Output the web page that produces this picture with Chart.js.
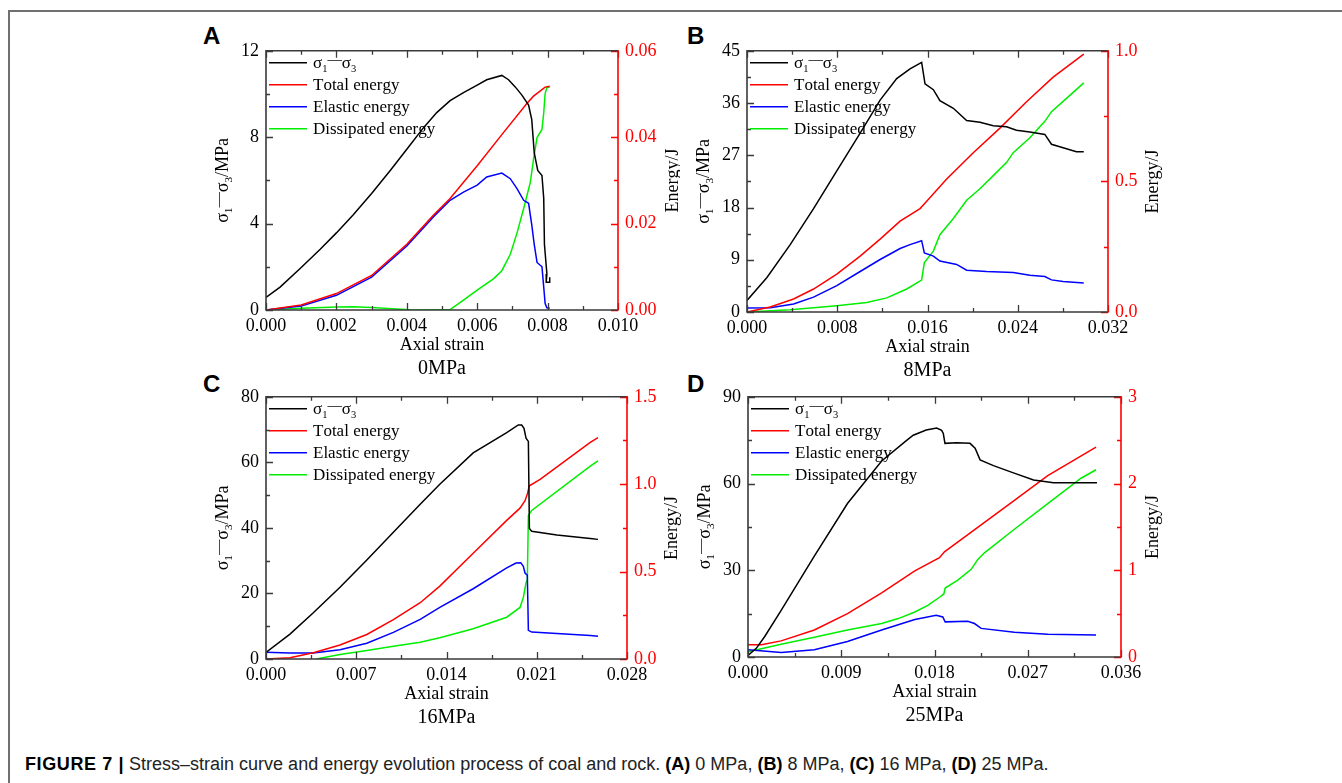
<!DOCTYPE html>
<html>
<head>
<meta charset="utf-8">
<script src="https://cdn.jsdelivr.net/npm/chart.js@4"></script>
<style>
  body { margin: 0; background: #fff; width: 1342px; height: 783px; overflow: hidden; position: relative; }
  .frame { position: absolute; left: 8px; top: 10px; width: 1400px; height: 800px;
           border-top: 2px solid #707070; border-left: 2px solid #707070; }
  canvas { position: absolute; }
  .letter { position: absolute; font: bold 24px "Liberation Sans", Arial, sans-serif; line-height: 24px; color: #000; }
  .caption { position: absolute; left: 25px; top: 754px; font: 18px "Liberation Sans", Arial, sans-serif;
             line-height: 20px; color: #222; white-space: nowrap; }
  .caption b { color: #000; }
</style>
</head>
<body>
<div class="frame"></div>
<div class="letter" style="left:203px;top:24px">A</div>
<div class="letter" style="left:687px;top:24px">B</div>
<div class="letter" style="left:203px;top:372px">C</div>
<div class="letter" style="left:687px;top:372px">D</div>
<canvas id="panelA"></canvas>
<canvas id="panelB"></canvas>
<canvas id="panelC"></canvas>
<canvas id="panelD"></canvas>
<div class="caption"><b style="letter-spacing:0.6px">FIGURE 7 |</b> Stress–strain curve and energy evolution process of coal and rock. <b>(A)</b> 0 MPa, <b>(B)</b> 8 MPa, <b>(C)</b> 16 MPa, <b>(D)</b> 25 MPa.</div>
<script>
const seriesLabels = ['σ1—σ3', 'Total energy', 'Elastic energy', 'Dissipated energy'];
const confining = ['0MPa', '8MPa', '16MPa', '25MPa'];

// (A) 0 MPa
const aStrainTicks = [0, 0.002, 0.004, 0.006, 0.008, 0.010];
const aStressTicks = [0, 4, 8, 12];
const aEnergyTicks = [0, 0.02, 0.04, 0.06];
const aStressX = [0, 0.0004, 0.001, 0.00154, 0.002, 0.00248, 0.003, 0.00353, 0.004, 0.00447, 0.00485, 0.00523, 0.00561, 0.006, 0.00627, 0.0067, 0.00689, 0.00708, 0.00727, 0.00746, 0.00755, 0.00762, 0.00772, 0.00784, 0.00789, 0.00791, 0.00798, 0.00796, 0.00806, 0.00806];
const aStress = [0.58, 1.06, 1.97, 2.81, 3.57, 4.41, 5.39, 6.46, 7.44, 8.43, 9.14, 9.69, 10.06, 10.41, 10.66, 10.86, 10.66, 10.33, 9.95, 9.49, 8.81, 7.29, 6.46, 6.23, 5.16, 3.04, 1.67, 1.29, 1.29, 1.52];
const aTotalX = [0, 0.001, 0.002, 0.003, 0.004, 0.00476, 0.00523, 0.006, 0.0067, 0.00741, 0.0076, 0.00793, 0.00806];
const aTotal = [0, 0.00114, 0.0038, 0.008, 0.0152, 0.022, 0.0258, 0.0334, 0.0406, 0.0478, 0.0495, 0.0516, 0.0518];
const aElasticX = [0, 0.001, 0.002, 0.003, 0.004, 0.00476, 0.00523, 0.00561, 0.006, 0.00627, 0.0067, 0.00694, 0.00713, 0.00732, 0.00746, 0.00755, 0.00762, 0.0077, 0.00784, 0.00789, 0.00793, 0.00798, 0.00806];
const aElastic = [0, 0.0009, 0.0034, 0.0076, 0.0148, 0.0216, 0.0254, 0.0273, 0.0289, 0.0308, 0.0317, 0.0304, 0.0281, 0.0254, 0.0247, 0.0197, 0.0152, 0.011, 0.01, 0.0053, 0.0015, 0.0005, 0.0004];
const aDissX = [0, 0.001, 0.002, 0.00248, 0.003, 0.0042, 0.00523, 0.00561, 0.006, 0.00646, 0.0067, 0.00694, 0.00713, 0.00732, 0.00751, 0.0076, 0.0077, 0.00784, 0.00789, 0.00793, 0.00798, 0.00806];
const aDiss = [0, 0.0004, 0.0007, 0.00076, 0.0006, 0, 0.0001, 0.0023, 0.0046, 0.0072, 0.0091, 0.0129, 0.0178, 0.0235, 0.0296, 0.0349, 0.0399, 0.0418, 0.0456, 0.0501, 0.0515, 0.0516];

// (B) 8 MPa
const bStrainTicks = [0, 0.008, 0.016, 0.024, 0.032];
const bStressTicks = [0, 9, 18, 27, 36, 45];
const bEnergyTicks = [0, 0.5, 1.0];
const bStressX = [0, 0.00177, 0.00383, 0.0059, 0.00796, 0.01003, 0.0118, 0.01327, 0.01445, 0.01548, 0.01578, 0.01652, 0.0171, 0.01829, 0.01947, 0.02065, 0.02183, 0.023, 0.02389, 0.02507, 0.0264, 0.02699, 0.02802, 0.0292, 0.02985];
const bStress = [1.98, 5.94, 11.6, 17.8, 24.3, 30.8, 36.5, 40.2, 41.9, 43.0, 39.3, 38.3, 36.4, 35.1, 33.0, 32.7, 32.1, 31.9, 31.3, 31.0, 30.6, 28.9, 28.3, 27.6, 27.6];
const bTotalX = [0, 0.00206, 0.00413, 0.0059, 0.00796, 0.01003, 0.0118, 0.01357, 0.01534, 0.01593, 0.0177, 0.02006, 0.02242, 0.02478, 0.02714, 0.02985];
const bTotal = [0, 0.019, 0.05, 0.088, 0.145, 0.214, 0.279, 0.348, 0.396, 0.424, 0.509, 0.61, 0.704, 0.805, 0.899, 0.987];
const bElasticX = [0, 0.00206, 0.00413, 0.0059, 0.00796, 0.01003, 0.0118, 0.01357, 0.01445, 0.01548, 0.01572, 0.01652, 0.0171, 0.01858, 0.01947, 0.02124, 0.0236, 0.02507, 0.0264, 0.02699, 0.02802, 0.02985];
const bElastic = [0.015, 0.016, 0.031, 0.057, 0.101, 0.155, 0.201, 0.243, 0.258, 0.273, 0.226, 0.214, 0.195, 0.182, 0.16, 0.155, 0.151, 0.141, 0.136, 0.123, 0.117, 0.111];
const bDissX = [0, 0.00383, 0.00796, 0.01062, 0.01239, 0.01416, 0.01548, 0.01572, 0.01652, 0.0171, 0.01829, 0.01947, 0.02065, 0.02183, 0.023, 0.0236, 0.02507, 0.0264, 0.02699, 0.02832, 0.02985];
const bDiss = [0, 0.009, 0.024, 0.036, 0.054, 0.088, 0.122, 0.189, 0.233, 0.296, 0.358, 0.428, 0.472, 0.522, 0.572, 0.61, 0.667, 0.73, 0.767, 0.818, 0.877];

// (C) 16 MPa
const cStrainTicks = [0, 0.007, 0.014, 0.021, 0.028];
const cStressTicks = [0, 20, 40, 60, 80];
const cEnergyTicks = [0, 0.5, 1.0, 1.5];
const cStressX = [0, 0.00186, 0.00367, 0.00574, 0.00782, 0.00988, 0.01196, 0.01348, 0.01607, 0.01867, 0.01957, 0.01983, 0.02001, 0.02017, 0.02035, 0.02043, 0.02061, 0.02256, 0.02515, 0.02575];
const cStress = [2.0, 7.6, 14.1, 21.9, 30.2, 38.7, 47.2, 53.3, 62.9, 69.1, 71.4, 71.4, 70.4, 67.4, 66.4, 39.8, 39.0, 37.8, 36.8, 36.5];
const cTotalX = [0, 0.00186, 0.00367, 0.00574, 0.00782, 0.00988, 0.01196, 0.01348, 0.01607, 0.01867, 0.0197, 0.02009, 0.02027, 0.02043, 0.02126, 0.02515, 0.02575];
const cTotal = [0, 0.0075, 0.036, 0.08, 0.14, 0.225, 0.322, 0.417, 0.605, 0.793, 0.863, 0.906, 0.944, 0.991, 1.028, 1.239, 1.267];
const cElasticX = [0, 0.00186, 0.00367, 0.00574, 0.00782, 0.00988, 0.01196, 0.01348, 0.01607, 0.01867, 0.01939, 0.01976, 0.01996, 0.02009, 0.02027, 0.02035, 0.02061, 0.02515, 0.02575];
const cElastic = [0.039, 0.034, 0.034, 0.053, 0.09, 0.152, 0.227, 0.295, 0.402, 0.521, 0.549, 0.551, 0.53, 0.492, 0.479, 0.164, 0.154, 0.135, 0.13];
const cDissX = [0.0039, 0.00574, 0.00782, 0.00988, 0.01196, 0.01348, 0.01607, 0.01867, 0.0197, 0.01996, 0.02017, 0.02027, 0.02035, 0.02061, 0.02515, 0.02575];
const cDiss = [0, 0.026, 0.049, 0.073, 0.096, 0.122, 0.173, 0.239, 0.295, 0.352, 0.436, 0.455, 0.821, 0.85, 1.103, 1.133];

// (D) 25 MPa
const dStrainTicks = [0, 0.009, 0.018, 0.027, 0.036];
const dStressTicks = [0, 30, 60, 90];
const dEnergyTicks = [0, 1, 2, 3];
const dStressX = [0, 0.0008, 0.0016, 0.0032, 0.0064, 0.0096, 0.0129, 0.0154, 0.01595, 0.0172, 0.01821, 0.01869, 0.01885, 0.01901, 0.02014, 0.02143, 0.02192, 0.0224, 0.02369, 0.02562, 0.02756, 0.02949, 0.03368];
const dStress = [0.5, 3.0, 7.0, 16.1, 34.9, 53.1, 67.8, 75.2, 76.7, 78.5, 79.2, 78.4, 77.3, 73.9, 74.1, 73.9, 72.2, 68.2, 66.2, 63.7, 61.2, 60.3, 60.3];
const dTotalX = [0, 0.0013, 0.0032, 0.0064, 0.0096, 0.0129, 0.0161, 0.01848, 0.01896, 0.0225, 0.02571, 0.02893, 0.03359];
const dTotal = [0.14, 0.142, 0.186, 0.311, 0.5, 0.739, 0.992, 1.144, 1.212, 1.523, 1.807, 2.091, 2.42];
const dElasticX = [0, 0.0032, 0.0064, 0.0096, 0.0129, 0.0161, 0.01816, 0.0188, 0.01903, 0.02121, 0.02186, 0.0225, 0.02571, 0.02893, 0.03359];
const dElastic = [0.083, 0.053, 0.083, 0.178, 0.311, 0.432, 0.481, 0.462, 0.405, 0.413, 0.386, 0.33, 0.284, 0.261, 0.254];
const dDissX = [0, 0.0032, 0.0064, 0.0096, 0.0129, 0.0145, 0.0161, 0.01736, 0.01848, 0.0189, 0.01903, 0.02025, 0.02154, 0.02218, 0.02282, 0.02571, 0.02893, 0.03214, 0.03359];
const dDiss = [0.06, 0.148, 0.227, 0.311, 0.386, 0.443, 0.519, 0.595, 0.689, 0.727, 0.795, 0.886, 1.011, 1.125, 1.201, 1.473, 1.769, 2.061, 2.159];

const SERIF = '"Liberation Serif", "Times New Roman", serif';
const colors = ['#000000', '#ff0000', '#0000ff', '#00ee00'];
const AXIS = '#3a3a3a';
const RED = '#ff0000';
// room around the plot box inside each canvas
const PAD = { left: 62, right: 62, top: 14, bottom: 74 };

const panels = [
  { id: 'A', area: [266, 47, 618, 310], rightTitle: 55, cond: confining[0],
    xTicks: aStrainTicks, yTicks: aStressTicks, eTicks: aEnergyTicks, eDigits: 2,
    series: [[aStressX, aStress], [aTotalX, aTotal], [aElasticX, aElastic], [aDissX, aDiss]] },
  { id: 'B', area: [747, 47, 1108, 312], rightTitle: 45, cond: confining[1],
    xTicks: bStrainTicks, yTicks: bStressTicks, eTicks: bEnergyTicks, eDigits: 1,
    series: [[bStressX, bStress], [bTotalX, bTotal], [bElasticX, bElastic], [bDissX, bDiss]] },
  { id: 'C', area: [266, 393, 627, 659], rightTitle: 45, cond: confining[2],
    xTicks: cStrainTicks, yTicks: cStressTicks, eTicks: cEnergyTicks, eDigits: 1,
    series: [[cStressX, cStress], [cTotalX, cTotal], [cElasticX, cElastic], [cDissX, cDiss]] },
  { id: 'D', area: [748, 393, 1121, 657], rightTitle: 32, cond: confining[3],
    xTicks: dStrainTicks, yTicks: dStressTicks, eTicks: dEnergyTicks, eDigits: 0,
    series: [[dStressX, dStress], [dTotalX, dTotal], [dElasticX, dElastic], [dDissX, dDiss]] },
];

// σ followed by a digit gets a subscript, the long dash sits a bit higher
function sigmaParts(text, size) {
  const parts = [];
  for (let i = 0; i < text.length; i++) {
    const ch = text[i];
    if (/\d/.test(ch) && text[i - 1] === 'σ') parts.push({ t: ch, size: size * 0.62, dy: size * 0.32 });
    else if (ch === '—') parts.push({ t: ch, size: size * 0.85, dy: -size * 0.2 });
    else parts.push({ t: ch, size: size, dy: 0 });
  }
  return parts;
}

function drawRich(ctx, text, x, y, size, align) {
  const parts = sigmaParts(text, size);
  let w = 0;
  parts.forEach(p => { ctx.font = p.size + 'px ' + SERIF; p.w = ctx.measureText(p.t).width; w += p.w; });
  let cx = align === 'center' ? x - w / 2 : x;
  ctx.textAlign = 'left';
  ctx.textBaseline = 'middle';
  parts.forEach(p => {
    ctx.font = p.size + 'px ' + SERIF;
    ctx.fillText(p.t, cx, y + p.dy);
    cx += p.w;
  });
}

function minorOf(ticks) {
  const out = [];
  for (let i = 1; i < ticks.length; i++) out.push((ticks[i - 1] + ticks[i]) / 2);
  return out;
}

const figureAxes = {
  id: 'figureAxes',
  afterDatasetsDraw(chart, args, p) {
    const { ctx, chartArea: a, scales } = chart;
    ctx.save();
    ctx.lineCap = 'butt';

    // inward tick marks
    ctx.lineWidth = 1.3;
    ctx.strokeStyle = AXIS;
    ctx.beginPath();
    [[p.xTicks, 7], [minorOf(p.xTicks), 4]].forEach(([vals, len]) => vals.forEach(v => {
      const px = Math.round(scales.x.getPixelForValue(v)) + 0.5;
      ctx.moveTo(px, a.bottom); ctx.lineTo(px, a.bottom - len);
      ctx.moveTo(px, a.top); ctx.lineTo(px, a.top + len);
    }));
    [[p.yTicks, 7], [minorOf(p.yTicks), 4]].forEach(([vals, len]) => vals.forEach(v => {
      const py = Math.round(scales.y.getPixelForValue(v)) + 0.5;
      ctx.moveTo(a.left, py); ctx.lineTo(a.left + len, py);
    }));
    ctx.stroke();
    ctx.strokeStyle = RED;
    ctx.beginPath();
    [[p.eTicks, 7], [minorOf(p.eTicks), 4]].forEach(([vals, len]) => vals.forEach(v => {
      const py = Math.round(scales.y1.getPixelForValue(v)) + 0.5;
      ctx.moveTo(a.right, py); ctx.lineTo(a.right - len, py);
    }));
    ctx.stroke();

    // plot box: dark on three sides, red energy axis on the right
    ctx.lineWidth = 1.6;
    ctx.strokeStyle = AXIS;
    ctx.beginPath();
    ctx.moveTo(a.right, a.top); ctx.lineTo(a.left, a.top);
    ctx.lineTo(a.left, a.bottom); ctx.lineTo(a.right, a.bottom);
    ctx.stroke();
    ctx.strokeStyle = RED;
    ctx.beginPath();
    ctx.moveTo(a.right, a.top - 0.8); ctx.lineTo(a.right, a.bottom + 0.8);
    ctx.stroke();

    // legend inside the top-left corner
    chart.data.datasets.forEach((ds, i) => {
      const y = a.top + 12 + i * 22;
      ctx.strokeStyle = ds.borderColor;
      ctx.lineWidth = 1.6;
      ctx.beginPath();
      ctx.moveTo(a.left + 3, y); ctx.lineTo(a.left + 41, y);
      ctx.stroke();
      ctx.fillStyle = '#000';
      drawRich(ctx, ds.label, a.left + 47, y + 1, 17, 'left');
    });

    // axis titles
    const midY = (a.top + a.bottom) / 2;
    const midX = (a.left + a.right) / 2;
    ctx.fillStyle = '#000';
    ctx.save();
    ctx.translate(a.left - 43, midY);
    ctx.rotate(-Math.PI / 2);
    drawRich(ctx, 'σ1—σ3/MPa', 0, 0, 18, 'center');
    ctx.restore();
    ctx.save();
    ctx.translate(a.right + p.rightTitle, midY);
    ctx.rotate(-Math.PI / 2);
    drawRich(ctx, 'Energy/J', 0, 0, 18, 'center');
    ctx.restore();
    drawRich(ctx, 'Axial strain', midX, a.bottom + 35, 18, 'center');
    drawRich(ctx, p.cond, midX, a.bottom + 59, 20, 'center');
    ctx.restore();
  }
};

function axis(values, digits, color, position, fit, pad) {
  return {
    type: 'linear',
    position: position,
    min: values[0],
    max: values[values.length - 1],
    afterBuildTicks: s => { s.ticks = values.map(v => ({ value: v })); },
    afterFit: fit,
    grid: { display: false, drawTicks: false },
    border: { display: false },
    ticks: {
      font: { family: SERIF, size: 18 },
      color: color,
      padding: pad,
      maxRotation: 0,
      autoSkip: false,
      callback: v => Number(v).toFixed(digits),
    },
  };
}

panels.forEach(p => {
  const [L, T, R, B] = p.area;
  const canvas = document.getElementById('panel' + p.id);
  canvas.width = R - L + PAD.left + PAD.right;
  canvas.height = B - T + PAD.top + PAD.bottom;
  canvas.style.left = (L - PAD.left) + 'px';
  canvas.style.top = (T - PAD.top) + 'px';

  const datasets = p.series.map(([xs, ys], i) => ({
    label: seriesLabels[i],
    data: xs.map((x, k) => ({ x: x, y: ys[k] })),
    borderColor: colors[i],
    yAxisID: i === 0 ? 'y' : 'y1',
  }));

  new Chart(canvas, {
    type: 'line',
    data: { datasets: datasets },
    plugins: [figureAxes],
    options: {
      responsive: false,
      animation: false,
      layout: { padding: { top: PAD.top, left: 0, right: 0, bottom: 0 } },
      elements: { point: { radius: 0 }, line: { borderWidth: 1.5, tension: 0 } },
      plugins: { legend: { display: false }, tooltip: { enabled: false }, figureAxes: p },
      scales: {
        x: axis(p.xTicks, 3, '#000', 'bottom', s => { s.height = PAD.bottom; }, 5),
        y: axis(p.yTicks, 0, '#000', 'left', s => { s.width = PAD.left; }, 7),
        y1: axis(p.eTicks, p.eDigits, RED, 'right', s => { s.width = PAD.right; }, 7),
      },
    },
  });
});
</script>
</body>
</html>
